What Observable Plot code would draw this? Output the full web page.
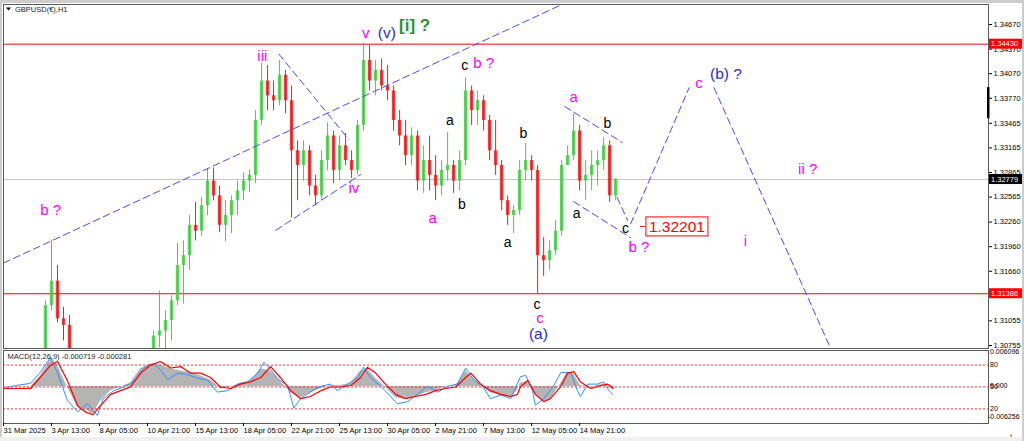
<!DOCTYPE html>
<html><head><meta charset="utf-8">
<script src="https://cdn.jsdelivr.net/npm/d3@7"></script>
<script src="https://cdn.jsdelivr.net/npm/@observablehq/plot@0.6"></script>
<style>
body{margin:0;background:#fff;}
#wrap{position:relative;width:1024px;height:441px;overflow:hidden;background:#fff;font-family:"Liberation Sans",Arial,sans-serif;}
#wrap svg{position:absolute;left:0;}
.strip{position:absolute;background:#cdcdcd;}
</style></head><body><div id="wrap"></div>
<script>
// ---------- DATA ----------
const symbolTitle = "GBPUSD(€),H1";
const macdTitle = "MACD(12,26,9) -0.000719 -0.000281";
const priceTicks = [1.34670,1.34370,1.34070,1.33770,1.33465,1.33165,1.32865,1.32565,1.32260,1.31960,1.31660,1.31360,1.31055,1.30755];
const levelPrices = [1.34430, 1.31386];
const currentPrice = 1.32779;
const targetPrice = 1.32201;
const targetIdx = 857;
const timeTickIdx = [0,64,128,192,256,320,384,448,512,576,640,704,768];
const timeTickLabels = ["31 Mar 2025","3 Apr 13:00","8 Apr 05:00","10 Apr 21:00","15 Apr 13:00","18 Apr 05:00","22 Apr 21:00","25 Apr 13:00","30 Apr 05:00","2 May 21:00","7 May 13:00","12 May 05:00","14 May 21:00"];

// candles (8 H1 bars each), bar index
const candleIdx = [56,64,72,80,88,200,208,216,224,232,240,248,256,264,272,280,288,296,304,312,320,328,336,344,352,360,368,376,384,392,400,408,416,424,432,440,448,456,464,472,480,488,496,504,512,520,528,536,544,552,560,568,576,584,592,600,608,616,624,632,640,648,656,664,672,680,688,696,704,712,720,728,736,744,752,760,768,776,784,792,800,808,816];
const candleOpen = [1.3057,1.3124,1.3154,1.3108,1.3100,1.3045,1.3087,1.3093,1.3106,1.3130,1.3173,1.3185,1.3222,1.3215,1.3246,1.3276,1.3258,1.3222,1.3234,1.3252,1.3264,1.3276,1.3283,1.3350,1.3398,1.3380,1.3374,1.3405,1.3374,1.3313,1.3295,1.3313,1.3270,1.3258,1.3301,1.3331,1.3289,1.3319,1.3301,1.3289,1.3344,1.3423,1.3398,1.3411,1.3392,1.3386,1.3350,1.3331,1.3307,1.3331,1.3276,1.3301,1.3283,1.3270,1.3289,1.3295,1.3276,1.3301,1.3386,1.3362,1.3374,1.3350,1.3313,1.3295,1.3252,1.3234,1.3240,1.3289,1.3301,1.3289,1.3185,1.3179,1.3191,1.3215,1.3295,1.3307,1.3337,1.3276,1.3283,1.3295,1.3301,1.3319,1.3258];
const candleHigh = [1.3130,1.3204,1.3173,1.3122,1.3112,1.3093,1.3142,1.3118,1.3136,1.3200,1.3203,1.3234,1.3250,1.3256,1.3291,1.3292,1.3270,1.3252,1.3258,1.3276,1.3286,1.3289,1.3362,1.3420,1.3417,1.3398,1.3423,1.3411,1.3392,1.3325,1.3325,1.3319,1.3283,1.3313,1.3347,1.3337,1.3331,1.3334,1.3313,1.3350,1.3444,1.3441,1.3423,1.3425,1.3417,1.3392,1.3362,1.3350,1.3341,1.3337,1.3319,1.3331,1.3307,1.3301,1.3335,1.3301,1.3313,1.3402,1.3392,1.3386,1.3380,1.3356,1.3350,1.3301,1.3258,1.3246,1.3301,1.3322,1.3307,1.3295,1.3207,1.3203,1.3228,1.3301,1.3319,1.3358,1.3344,1.3301,1.3313,1.3313,1.3329,1.3325,1.3279];
const candleLow = [1.3032,1.3118,1.3103,1.3081,1.3032,1.3032,1.3073,1.3067,1.3081,1.3124,1.3126,1.3167,1.3203,1.3209,1.3234,1.3252,1.3213,1.3202,1.3212,1.3234,1.3252,1.3262,1.3273,1.3344,1.3362,1.3362,1.3368,1.3358,1.3231,1.3252,1.3276,1.3258,1.3246,1.3252,1.3289,1.3273,1.3276,1.3295,1.3279,1.3283,1.3337,1.3386,1.3380,1.3386,1.3374,1.3337,1.3319,1.3295,1.3295,1.3264,1.3261,1.3264,1.3252,1.3258,1.3276,1.3261,1.3264,1.3295,1.3344,1.3344,1.3337,1.3301,1.3283,1.3240,1.3222,1.3212,1.3234,1.3276,1.3276,1.3139,1.3160,1.3167,1.3185,1.3209,1.3295,1.3301,1.3264,1.3252,1.3264,1.3270,1.3289,1.3250,1.3252];
const candleClose = [1.3124,1.3154,1.3108,1.3100,1.3045,1.3087,1.3093,1.3106,1.3130,1.3173,1.3185,1.3222,1.3215,1.3246,1.3276,1.3258,1.3222,1.3234,1.3252,1.3264,1.3276,1.3283,1.3350,1.3398,1.3380,1.3374,1.3405,1.3374,1.3313,1.3295,1.3313,1.3270,1.3258,1.3301,1.3331,1.3289,1.3319,1.3301,1.3289,1.3344,1.3423,1.3398,1.3411,1.3392,1.3386,1.3350,1.3331,1.3307,1.3331,1.3276,1.3301,1.3283,1.3270,1.3289,1.3295,1.3276,1.3301,1.3386,1.3362,1.3374,1.3350,1.3313,1.3295,1.3252,1.3234,1.3240,1.3289,1.3301,1.3289,1.3185,1.3179,1.3191,1.3215,1.3295,1.3307,1.3337,1.3276,1.3283,1.3295,1.3301,1.3319,1.3258,1.32779];

// dashed blue wave lines: [barIndex, price] pairs
const trendSegments = [
  [[0,1.3176],[760,1.3498]],
  [[367,1.3431],[460,1.3327]],
  [[363,1.3216],[476,1.3284]],
  [[748,1.3367],[825,1.3323]],
  [[760,1.3251],[836,1.3207]],
  [[818,1.3256],[832,1.3228]],
  [[836,1.3224],[914,1.3390]],
  [[947,1.3390],[1103,1.3071]]
];

// wave labels: [text, barIndex, price]
const magentaLabels = [["b ?",63,1.3240],["iii",345,1.3428],["v",483,1.3456],["iv",467,1.3267],["b ?",640,1.3420],["a",572,1.3231],["c",715,1.3109],["a",760,1.3378],["b ?",847,1.3195],["c",927,1.3396],["ii ?",1072,1.3291],["i",989,1.3203],["iv",1109,1.3062]];
const blackLabels = [["c",615,1.3417],["a",595,1.3350],["b",611,1.3248],["a",672,1.3201],["b",693,1.3334],["c",711,1.3125],["a",764,1.3237],["b",805,1.3346],["c",829,1.3218]];
const blueLabels = [["(v)",511,1.3457],["(a)",713,1.3090],["(b) ?",963,1.3407]];
const greenLabels = [["[i] ?",548,1.3466]];

// MACD pane
const macdIdx = [0,36,49,63,72,85,99,109,119,129,143,156,169,183,196,209,223,236,249,263,276,289,303,316,329,343,356,369,383,396,409,423,436,449,463,476,485,496,509,523,536,549,563,576,589,603,616,623,636,649,663,676,685,689,699,709,720,729,743,752,760,769,783,796,805,813];
const macdMain = [-0.00008,-0.00008,0.00177,0.00461,0.00363,-0.00008,-0.00354,-0.00379,-0.00477,-0.00255,-0.00070,-0.00008,0.00054,0.00301,0.00387,0.00363,0.00301,0.00264,0.00239,0.00177,0.00115,-0.00033,-0.00008,0.00054,0.00091,0.00301,0.00264,0.00091,-0.00107,-0.00193,-0.00107,-0.00033,0.00017,0.00017,0.00054,0.00264,0.00301,0.00140,-0.00008,-0.00193,-0.00218,-0.00181,-0.00107,-0.00070,-0.00008,0.00017,0.00264,0.00177,0.00017,-0.00107,-0.00156,-0.00181,-0.00070,0.00054,0.00091,-0.00156,-0.00255,-0.00218,0.00054,0.00239,0.00214,0.00017,-0.00008,0.00029,0.00017,-0.00072];
const macdSignal = [-0.00033,-0.00033,0.00153,0.00363,0.00424,0.00103,-0.00329,-0.00428,-0.00477,-0.00329,-0.00132,-0.00070,-0.00008,0.00227,0.00363,0.00424,0.00313,0.00338,0.00227,0.00227,0.00153,-0.00008,-0.00033,0.00041,0.00078,0.00153,0.00338,0.00153,-0.00070,-0.00206,-0.00169,-0.00070,-0.00008,-0.00008,0.00017,0.00153,0.00325,0.00227,0.00041,-0.00132,-0.00206,-0.00169,-0.00132,-0.00070,-0.00033,-0.00008,0.00153,0.00227,0.00041,-0.00070,-0.00132,-0.00169,-0.00132,-0.00008,0.00103,-0.00132,-0.00255,-0.00206,0.00004,0.00227,0.00251,0.00078,-0.00033,0.00017,0.00041,-0.00028];
const oscIdx = [0,16,36,49,63,72,85,99,112,125,133,147,160,173,187,200,209,219,232,245,259,272,285,299,312,325,339,347,356,365,379,387,396,409,423,436,445,459,472,480,489,503,516,525,539,552,565,579,592,605,616,627,640,649,663,676,689,696,705,709,720,733,743,756,765,769,779,792,800,807,812];
const oscValues = [48,52,55,70,91,69,32,16,27,11,34,45,50,57,76,82,74,60,69,67,62,59,43,45,54,57,69,84,74,62,51,21,34,43,51,54,45,54,63,77,63,51,37,27,30,40,51,43,51,54,76,60,49,34,39,34,64,66,45,25,34,51,70,70,45,37,54,54,57,45,40];
const oscLevels = [80,50,20];
const macdMax = 0.006096, macdMin = -0.006256;
const macdScaleLabels = ["0.006096","80","0.000","50","20","-0.006256"];

// ---------- RENDER ----------
const FONT = "Liberation Sans, Arial, sans-serif";
const GREEN = "#3fcf3f", RED = "#f21a1a";
const xDomain = [0, 1313];
const priceDomain = [1.30718, 1.34914];
const wrap = document.getElementById("wrap");

const candles = candleIdx.map((i,k)=>({i,o:candleOpen[k],h:candleHigh[k],l:candleLow[k],c:candleClose[k]}));
const col = d => d.c >= d.o ? GREEN : RED;
const trendRows = trendSegments.flatMap((seg,s)=>seg.map(([i,p])=>({s,i,p})));
const mk = arr => arr.map(([t,i,p])=>({t,i,p}));
const fmt5 = d3.format(".5f");

const main = Plot.plot({
  width:1024, height:350, marginLeft:3, marginRight:36, marginTop:4, marginBottom:2,
  x:{domain:xDomain, axis:null},
  y:{domain:priceDomain, axis:null},
  color:{type:"identity"},
  style:{fontFamily:FONT, background:"transparent", color:"#000", overflow:"visible"},
  marks:[
    Plot.ruleY([currentPrice], {stroke:"#c4c4c4"}),
    Plot.ruleY(levelPrices, {stroke:"#ff0000"}),
    Plot.ruleX(candles, {x:"i", y1:"l", y2:"h", stroke:col, strokeWidth:1, clip:true}),
    Plot.ruleX(candles, {x:"i", y1:"o", y2:"c", stroke:col, strokeWidth:3.5, strokeOpacity:0.85, clip:true}),
    Plot.line(trendRows, {x:"i", y:"p", z:"s", stroke:"#4848ff", strokeWidth:1, strokeDasharray:"7,4", clip:true}),
    Plot.text(mk(magentaLabels), {x:"i", y:"p", text:"t", fill:"#ff00ff", fontSize:15, clip:true}),
    Plot.text(mk(blackLabels), {x:"i", y:"p", text:"t", fill:"#000", fontSize:14}),
    Plot.text(mk(blueLabels), {x:"i", y:"p", text:"t", fill:"#2a2ad6", fontSize:15.5}),
    Plot.text(mk(greenLabels), {x:"i", y:"p", text:"t", fill:"#2f8f2f", fontSize:17, fontWeight:"bold"}),
    Plot.frame({stroke:"#5a5a5a"}),
    Plot.axisY({anchor:"right", ticks:priceTicks, tickFormat:fmt5, tickSize:3, tickPadding:2, fontSize:7.5})
  ]
});
main.style.top = "0px";
wrap.appendChild(main);

const xs = main.scale("x"), ys = main.scale("y");
const svg = d3.select(main);
const right = xs.range[1];
// price label boxes on the axis
[[levelPrices[0],"#ff0000"],[currentPrice,"#000"],[levelPrices[1],"#ff0000"]].forEach(([p,bg])=>{
  const y = ys.apply(p);
  svg.append("rect").attr("x",right+1).attr("y",y-5).attr("width",34).attr("height",10).attr("fill",bg);
  svg.append("text").attr("x",right+3).attr("y",y).attr("dy","0.35em").attr("fill","#fff")
    .attr("text-anchor","start").attr("font-size",7.5).attr("font-family",FONT).text(fmt5(p));
});
// scroll marker
svg.append("rect").attr("x",right-1).attr("y",ys.apply(1.3390)).attr("width",2.5)
  .attr("height",ys.apply(1.3352)-ys.apply(1.3390)).attr("fill","#000");
// title
svg.append("path").attr("d","M6,7.5 L11,7.5 L8.5,10.5 Z").attr("fill","#000");
svg.append("text").attr("x",15).attr("y",9.5).attr("dy","0.35em").attr("font-size",7.5)
  .attr("text-anchor","start").attr("font-family",FONT).attr("fill","#222").text(symbolTitle);
// target box
{
  const gx = xs.apply(targetIdx), gy = ys.apply(targetPrice);
  const g = svg.append("g");
  const r = g.append("rect");
  const t = g.append("text").attr("x",gx+3).attr("y",gy).attr("dy","0.36em").attr("fill","#ff0000")
    .attr("text-anchor","start").attr("font-size",15.5).attr("font-family",FONT).text(fmt5(targetPrice));
  const bb = t.node().getBBox();
  r.attr("x",gx).attr("y",gy-9.5).attr("width",bb.width+6).attr("height",19).attr("fill","#fff").attr("stroke","#ff0000");
  g.append("line").attr("x1",gx-6).attr("x2",gx-1).attr("y1",gy).attr("y2",gy).attr("stroke","#ff0000");
}

// MACD pane
const lvl = v => macdMin + v/100*(macdMax-macdMin);
const macdRows = macdIdx.map((i,k)=>({i, m:macdMain[k], s:macdSignal[k]}));
const oscRows = oscIdx.map((i,k)=>({i, v:lvl(oscValues[k])}));
const tickLabel = new Map(timeTickIdx.map((d,k)=>[d,timeTickLabels[k]]));
const sub = Plot.plot({
  width:1024, height:91, marginLeft:3, marginRight:36, marginTop:0, marginBottom:18,
  x:{domain:xDomain, axis:null},
  y:{domain:[macdMin,macdMax], axis:null},
  style:{fontFamily:FONT, background:"transparent", color:"#000", overflow:"visible"},
  marks:[
    Plot.areaY(macdRows, {x:"i", y1:()=>0, y2:"m", fill:"#b4b4b4"}),
    Plot.ruleY(oscLevels.map(lvl), {stroke:"#ff2a2a", strokeDasharray:"2,2"}),
    Plot.line(oscRows, {x:"i", y:"v", stroke:"#3090ff", strokeWidth:1}),
    Plot.line(macdRows, {x:"i", y:"s", stroke:"#ff0000", strokeWidth:1.2}),
    Plot.frame({stroke:"#5a5a5a"}),
    Plot.axisX({ticks:timeTickIdx, tickFormat:d=>tickLabel.get(d), tickSize:3, tickPadding:1, fontSize:7.5, textAnchor:"start"}),
    Plot.text([macdTitle], {frameAnchor:"top-left", dx:4, dy:3, fontSize:7.5, fill:"#222", textAnchor:"start"})
  ]
});
sub.style.top = "350px";
wrap.appendChild(sub);
{
  const sy = sub.scale("y"), sx = sub.scale("x");
  const ssvg = d3.select(sub);
  const r = sx.range[1];
  const vals = [macdMax, lvl(80), 0, lvl(50), lvl(20), macdMin];
  const offs = [2, 0, 0, 0, 0, -6];
  const dxs = [2, 2, 2, 2, 2, 0];
  macdScaleLabels.forEach((t,k)=>{
    ssvg.append("text").attr("x",r+dxs[k]).attr("y",sy.apply(vals[k])+offs[k]).attr("dy","0.35em").attr("font-size",7)
      .attr("text-anchor","start").attr("font-family",FONT).attr("fill","#000").text(t);
  });
}
// window edges
[["0px","0px","1024px","3px"],["0px","0px","2px","441px"],["0px","437px","1024px","4px"],["1022px","0px","2px","441px"]].forEach(([l,t,w,h])=>{
  const d=document.createElement("div"); d.className="strip";
  d.style.left=l; d.style.top=t; d.style.width=w; d.style.height=h;
  if(t==="437px") d.style.background="#f0f0f0";
  wrap.appendChild(d);
});
</script></body></html>
